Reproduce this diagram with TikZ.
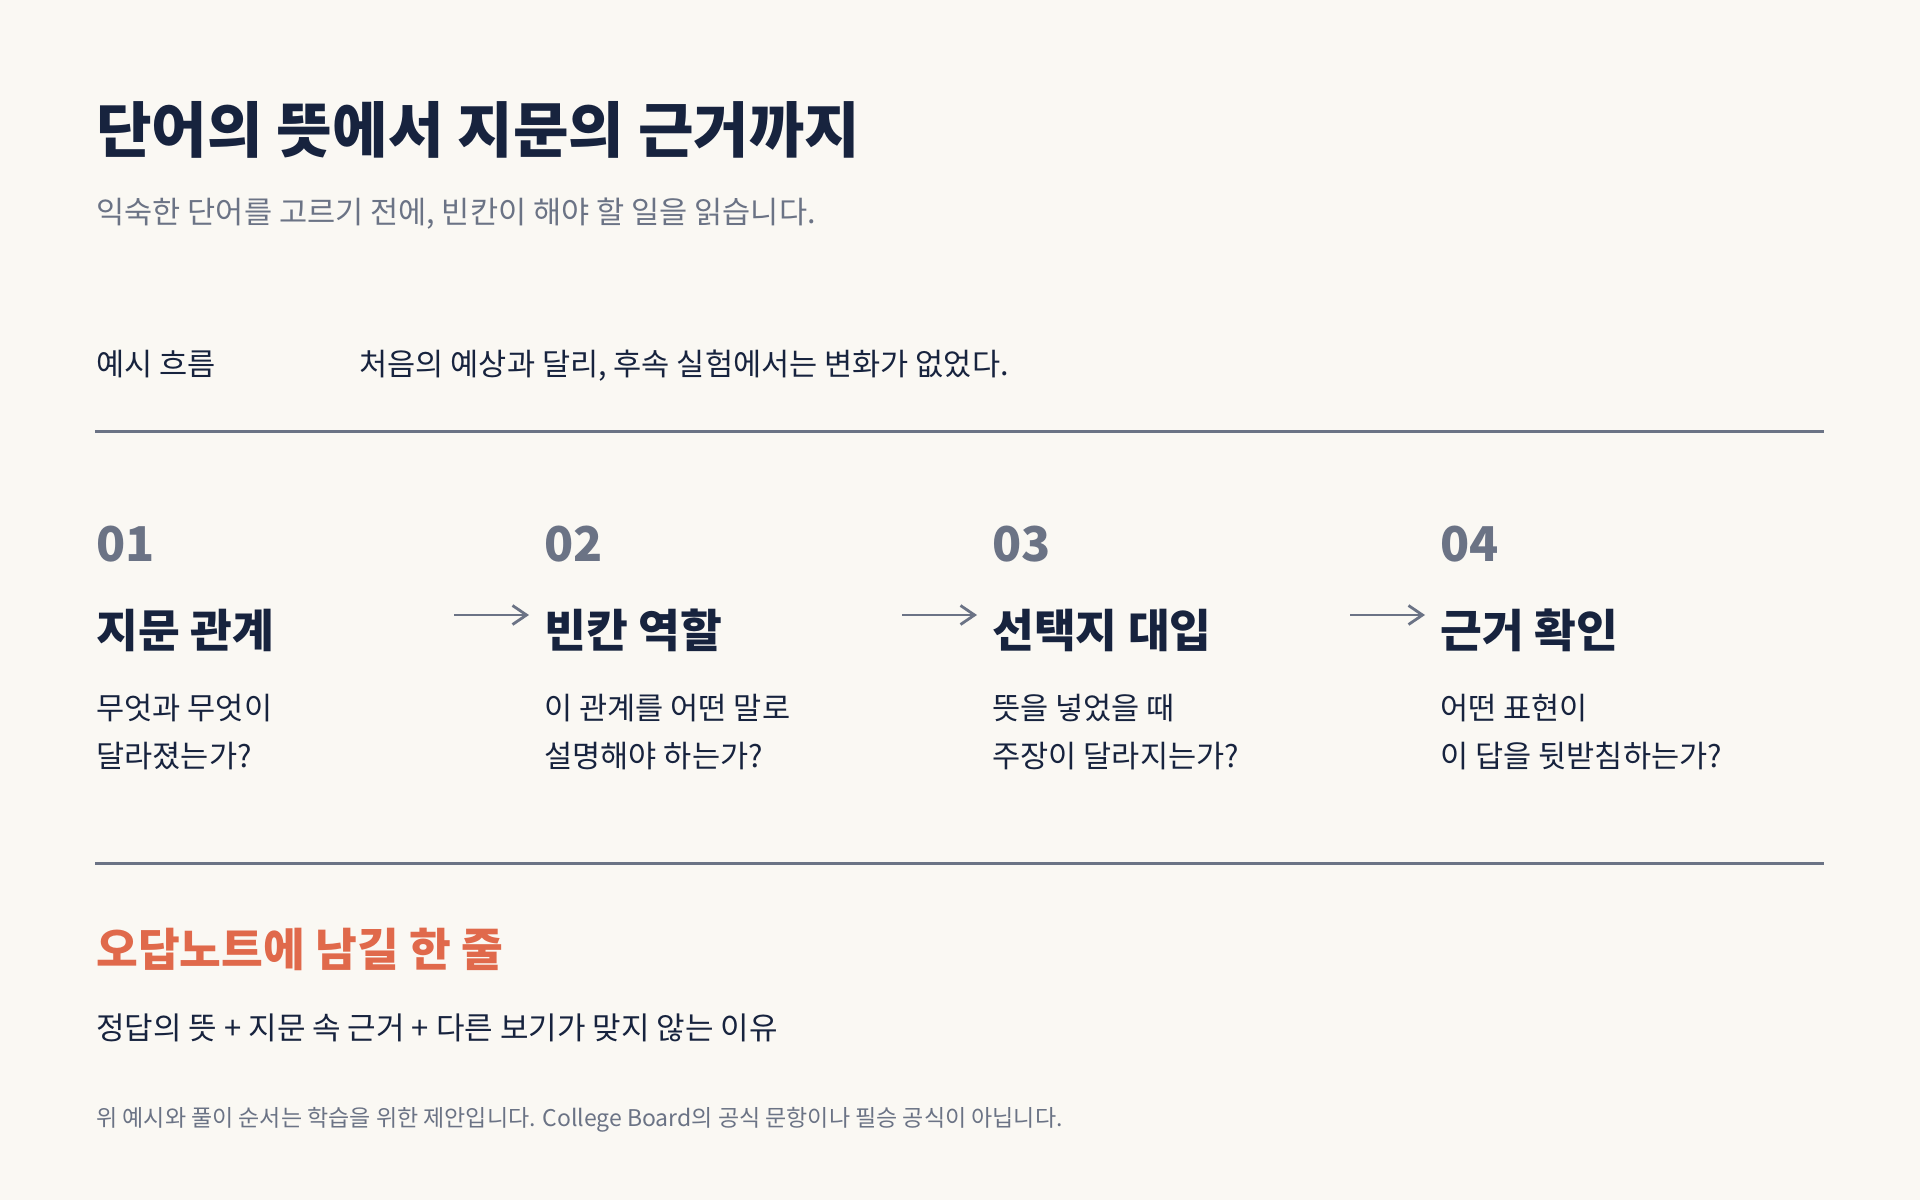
\documentclass[tikz,border=0pt]{standalone}
\usepackage{fontspec}
\setmainfont{Noto Sans CJK KR}
\usepackage{tikz}
\usetikzlibrary{arrows.meta}
\definecolor{paper}{HTML}{FAF8F3}
\definecolor{ink}{HTML}{17233E}
\definecolor{slate}{HTML}{6B7385}
\definecolor{coral}{HTML}{E0694B}

\begin{document}
\begin{tikzpicture}[x=0.5pt,y=-0.5pt]
	\tikzstyle{every node} = [inner sep = 0, anchor = base west]
	\tikzstyle{rule} = [draw = slate, line width = 1.5pt]
	\tikzstyle{flow} = [draw = slate, line width = 1.4pt, -{Straight Barb[length=7pt,width=9.5pt]}]
	\tikzstyle{num} = [text = slate, font = \fontsize{24}{24}\bfseries]
	\tikzstyle{head} = [text = ink, font = \fontsize{22.7}{22.7}\bfseries]
	\tikzstyle{body} = [text = ink, align = left, font = \fontsize{15.3}{24}\selectfont]
\fill[paper] (0,0) rectangle (1920,1200);
\useasboundingbox (0,0) rectangle (1920,1200);
\node[text = ink, font = \fontsize{30.2}{30.2}\bfseries] (title) at (96,152) {단어의 뜻에서 지문의 근거까지};
\node[text = slate, font = \fontsize{15.3}{15.3}\selectfont] (sub) at (96,223) {익숙한 단어를 고르기 전에, 빈칸이 해야 할 일을 읽습니다.};
\node[text = ink, font = \fontsize{15.3}{15.3}\selectfont] (ex) at (96,375) {예시 흐름};
\node[text = ink, font = \fontsize{15.3}{15.3}\selectfont] (exline) at (359,375) {처음의 예상과 달리, 후속 실험에서는 변화가 없었다.};
\coordinate (top0) at (95,431);
\coordinate (top1) at (1824,431);
\path[rule] (top0) -- (top1);
\node[num] (n1) at (96,561) {01};
\node[num] (n2) at (544,561) {02};
\node[num] (n3) at (992,561) {03};
\node[num] (n4) at (1440,561) {04};
\node[head] (h1) at (96,647) {지문 관계};
\node[head] (h2) at (544,647) {빈칸 역할};
\node[head] (h3) at (992,647) {선택지 대입};
\node[head] (h4) at (1440,647) {근거 확인};
\node[body] (b1) at (96,767) {무엇과 무엇이\\달라졌는가?};
\node[body] (b2) at (544,767) {이 관계를 어떤 말로\\설명해야 하는가?};
\node[body] (b3) at (992,767) {뜻을 넣었을 때\\주장이 달라지는가?};
\node[body] (b4) at (1440,767) {어떤 표현이\\이 답을 뒷받침하는가?};
\coordinate (a1) at (454,615);
\coordinate (a2) at (902,615);
\coordinate (a3) at (1350,615);
	\path[flow] (a1) -- ([xshift=-7.5pt]a1 -| h2.west);
	\path[flow] (a2) -- ([xshift=-7.5pt]a2 -| h3.west);
	\path[flow] (a3) -- ([xshift=-7.5pt]a3 -| h4.west);
\coordinate (bot0) at (95,863);
\coordinate (bot1) at (1824,863);
\path[rule] (bot0) -- (bot1);
\node[text = coral, font = \fontsize{22.7}{22.7}\bfseries] (note) at (96,966) {오답노트에 남길 한 줄};
\node[text = ink, font = \fontsize{15.5}{15.5}\selectfont] (sum) at (96,1039) {정답의 뜻 + 지문 속 근거 + 다른 보기가 맞지 않는 이유};
\node[text = slate, font = \fontsize{11.5}{11.5}\selectfont] (foot) at (96,1126) {위 예시와 풀이 순서는 학습을 위한 제안입니다. College Board의 공식 문항이나 필승 공식이 아닙니다.};
\end{tikzpicture}
\end{document}
